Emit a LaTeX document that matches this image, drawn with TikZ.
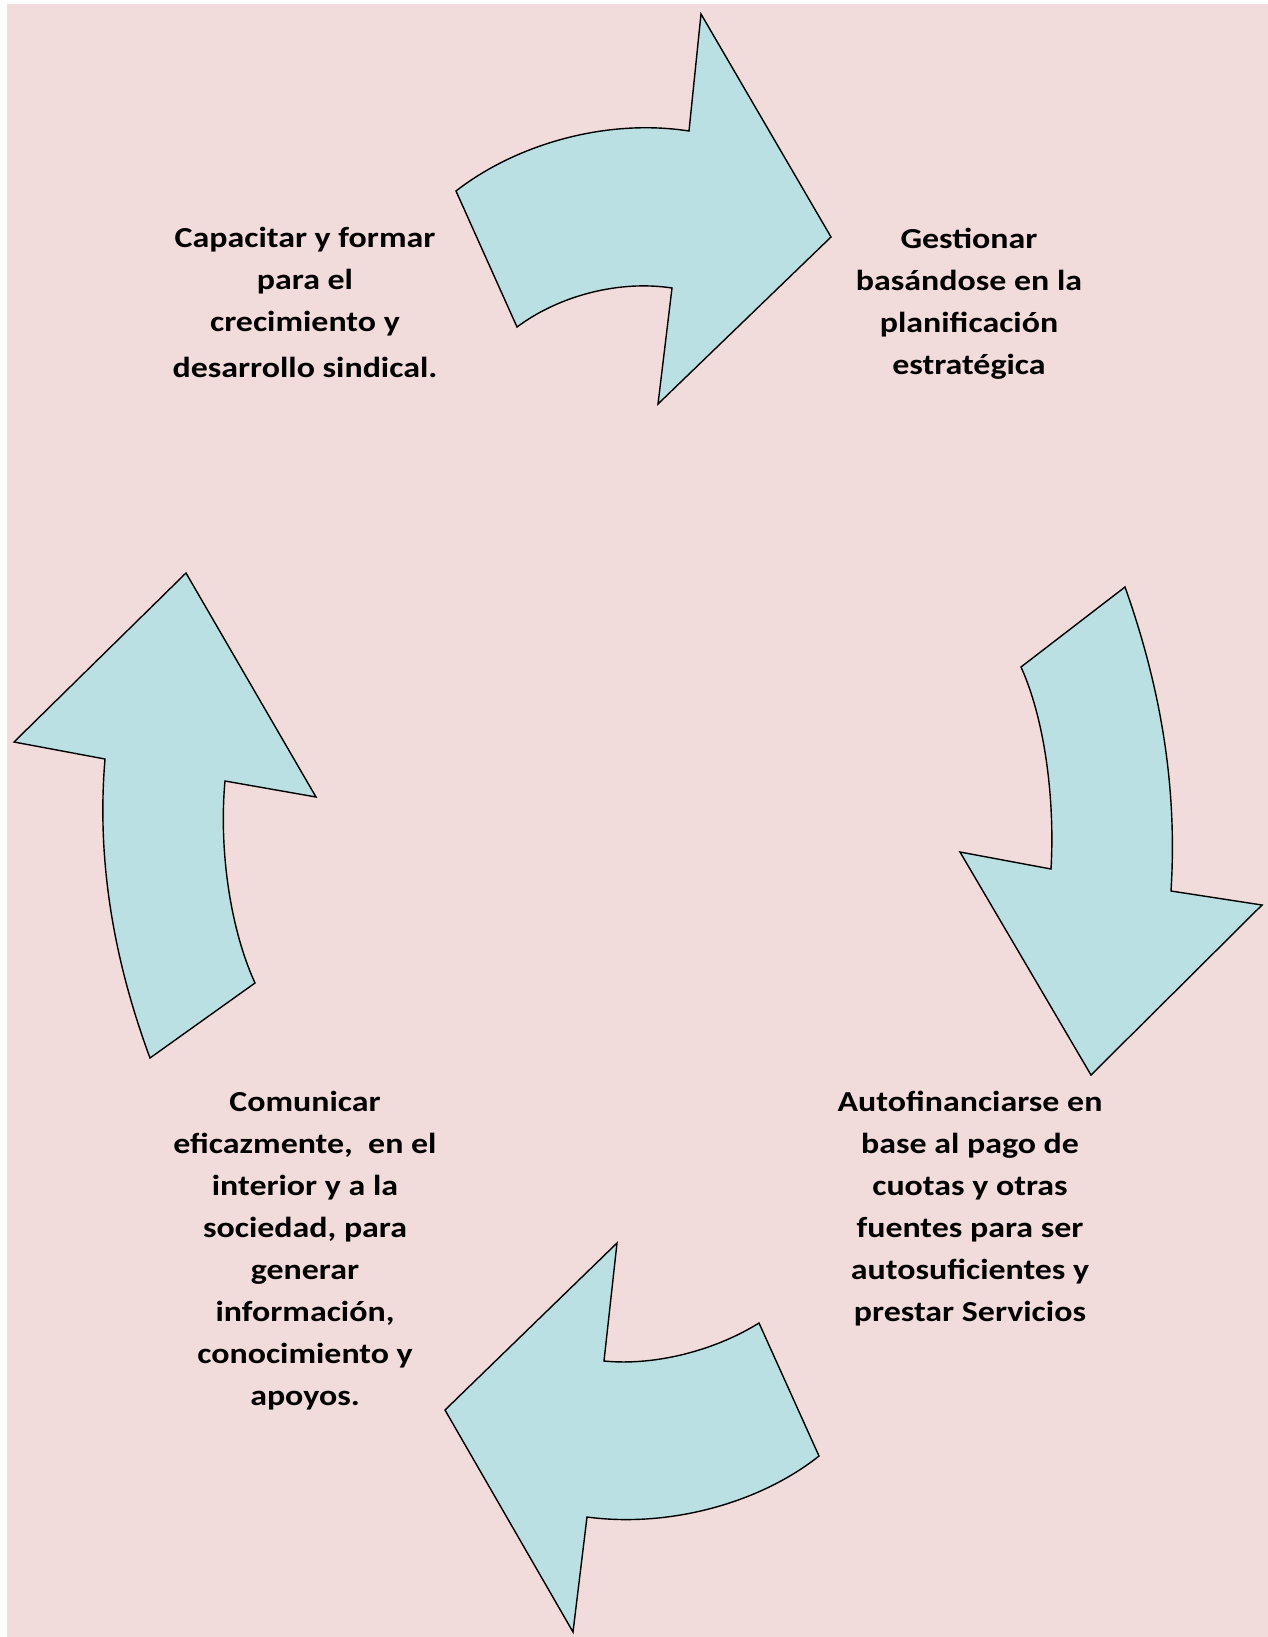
\documentclass[tikz,border=0pt]{standalone}
\usepackage{fontspec}
\setmainfont{Carlito}[FakeStretch=1.17]
\usepackage{xcolor}
\usepackage{tikz}
\usetikzlibrary{positioning, calc}

\definecolor{fondo}{HTML}{F2DCDB}
\definecolor{celeste}{HTML}{BBE0E3}

\begin{document}
\begin{tikzpicture}[
				x=0.02cm, y=-0.02cm,
				flecha/.style={draw=black, fill=celeste, line width=0.8pt, line join=miter},
				texto/.style={align=center, inner sep=0pt, anchor=base, font=\bfseries\fontsize{16.5}{23.9}\selectfont}
				]
				% fondo
				\useasboundingbox (0,0) rectangle (1268,1637);
				\fill[white] (0,0) rectangle (1268,1637);
				\fill[fondo] (7,4) rectangle (1268,1637);

				% flecha superior
				\draw[flecha] (456,191) .. controls (515,145) and (605,118) .. (689,131)
					-- (701,14) -- (831,237) -- (658,404) -- (672,288)
					.. controls (620,280) and (560,295) .. (517,327) -- cycle;
				% flecha derecha
				\draw[flecha] (1125,587) .. controls (1158,680) and (1178,780) .. (1171,891)
					-- (1262,905) -- (1091,1075) -- (960,852) -- (1051,869)
					.. controls (1055,800) and (1045,720) .. (1021,667) -- cycle;
				% flecha inferior
				\draw[flecha] (819,1456) .. controls (760,1503) and (669,1528) .. (587,1517)
					-- (573,1632) -- (445,1410) -- (617,1243) -- (604,1361)
					.. controls (654,1366) and (714,1351) .. (759,1323) -- cycle;
				% flecha izquierda
				\draw[flecha] (150,1058) .. controls (116,966) and (96,866) .. (105,759)
					-- (14,742) -- (186,573) -- (316,797) -- (225,781)
					.. controls (219,846) and (229,926) .. (255,983) -- cycle;

				% textos (anclados en la ultima linea)
				\node[texto] (capacitar) at (305,377) {Capacitar y formar\\para el\\crecimiento y\\[2pt]desarrollo sindical.};
				\node[texto] (gestionar) at (969,374) {Gestionar\\basándose en la\\planificación\\estratégica};
				\node[texto] (autofin) at (970,1321) {Autofinanciarse en\\base al pago de\\cuotas y otras\\fuentes para ser\\autosuficientes y\\prestar Servicios};
				\node[texto] (comunicar) at (305,1405) {Comunicar\\eficazmente,~ en el\\interior y a la\\sociedad, para\\generar\\información,\\conocimiento y\\apoyos.};
			\end{tikzpicture}
\end{document}
